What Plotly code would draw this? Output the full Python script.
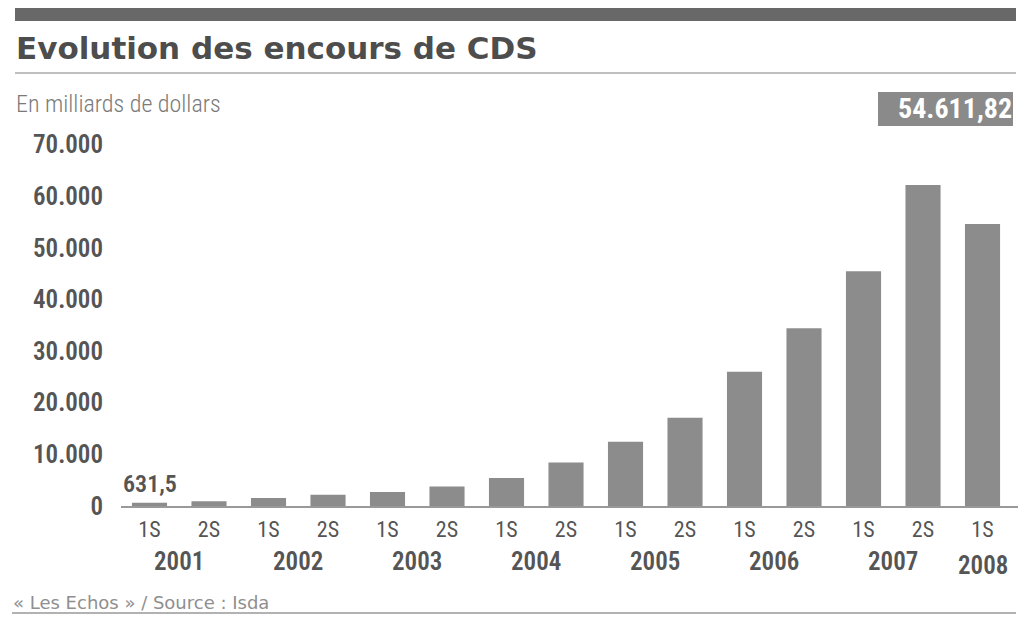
import plotly.graph_objects as go

# ---- data ----
halves = ["1S", "2S", "1S", "2S", "1S", "2S", "1S", "2S", "1S", "2S", "1S", "2S", "1S", "2S", "1S"]
years = ["2001", "2002", "2003", "2004", "2005", "2006", "2007", "2008"]
values = [631.5, 918.87, 1563.48, 2191.57, 2687.91, 3779.40, 5441.86, 8422.26,
          12429.88, 17096.14, 26005.61, 34422.80, 45464.54, 62173.20, 54611.82]
ytick_vals = [0, 10000, 20000, 30000, 40000, 50000, 60000, 70000]
ytick_text = ["0", "10.000", "20.000", "30.000", "40.000", "50.000", "60.000", "70.000"]
first_label = "631,5"
last_label = "54.611,82"

COND = "Roboto Condensed, DejaVu Sans Condensed, sans-serif"
BAR = "#8c8c8c"

xs = list(range(len(values)))

# page body has an 8px margin: figure sits at (8, 8) in the window
OFF = 8
W_PX, H_PX = 1026 - OFF, 617 - OFF
L, R, T, B = 113, 6, 121, 111
pw, ph = W_PX - L - R, H_PX - T - B


def px(xs_):
    return (xs_ - OFF - L) / pw


def py(ys_):
    return (H_PX - B - (ys_ - OFF)) / ph


fig = go.Figure()
fig.add_trace(go.Bar(x=xs, y=values, marker=dict(color=BAR, line=dict(width=0)),
                     width=0.59, hoverinfo="skip", showlegend=False))

annotations = []
for i, yr in enumerate(years):
    last = 2 * i + 1 >= len(values)
    xc = 2 * i if last else 2 * i + 0.5
    annotations.append(dict(x=xc, xref="x", y=py(565 if last else 561), yref="paper",
                            text=yr, showarrow=False,
                            font=dict(family=COND, size=25, color="#555555", weight=600),
                            xanchor="center", yanchor="middle"))
annotations.append(dict(x=0, xref="x", y=values[0], yref="y", text=first_label,
                        showarrow=False, yshift=19, font=dict(family=COND, size=24, color="#555555", weight=600),
                        xanchor="center", yanchor="middle"))
annotations.append(dict(x=px(1014), xref="paper", y=py(109), yref="paper", text="<b>" + last_label + "</b>",
                        showarrow=False, font=dict(family=COND, size=28, color="white"),
                        xanchor="right", yanchor="middle"))
annotations.append(dict(x=px(14), xref="paper", y=py(48), yref="paper",
                        text="<b>Evolution des encours de CDS</b>", showarrow=False,
                        font=dict(family="DejaVu Sans, sans-serif", size=31, color="#4d4d4d"),
                        xanchor="left", yanchor="middle"))
annotations.append(dict(x=px(14), xref="paper", y=py(104), yref="paper",
                        text="En milliards de dollars", showarrow=False,
                        font=dict(family=COND, size=24, color="#7a7a7a", weight=300),
                        xanchor="left", yanchor="middle"))
annotations.append(dict(x=px(11), xref="paper", y=py(602), yref="paper",
                        text="« Les Echos » / Source : Isda", showarrow=False,
                        font=dict(family="DejaVu Sans, sans-serif", size=18, color="#8f8f8f"),
                        xanchor="left", yanchor="middle"))

shapes = [
    dict(type="rect", xref="paper", yref="paper", x0=px(15), x1=px(1016), y0=py(21), y1=py(8),
         fillcolor="#686868", line=dict(width=0), layer="below"),
    dict(type="line", xref="paper", yref="paper", x0=px(15), x1=px(1016), y0=py(73), y1=py(73),
         line=dict(color="#aaaaaa", width=1.5)),
    dict(type="rect", xref="paper", yref="paper", x0=px(878), x1=px(1013), y0=py(126), y1=py(92),
         fillcolor="#8a8a8a", line=dict(width=0), layer="below"),
    dict(type="line", xref="paper", yref="paper", x0=px(12), x1=px(1016), y0=py(613), y1=py(613),
         line=dict(color="#999999", width=1.5)),
]

fig.update_layout(
    width=W_PX, height=H_PX,
    margin=dict(l=L, r=R, t=T, b=B, autoexpand=False),
    paper_bgcolor="white", plot_bgcolor="rgba(0,0,0,0)",
    annotations=annotations, shapes=shapes,
    xaxis=dict(range=[-0.479, 14.63], tickvals=xs, ticktext=halves, showgrid=False, zeroline=False,
               showline=True, linecolor="#999", linewidth=1.5, ticks="", ticklabelstandoff=3,
               tickfont=dict(family=COND, size=22, color="#555"), fixedrange=True),
    yaxis=dict(range=[0, 73000], tickvals=ytick_vals, ticktext=ytick_text, showgrid=False,
               zeroline=False, showline=False, ticks="", ticklabelstandoff=17,
               tickfont=dict(family=COND, size=25, color="#555555", weight=600), fixedrange=True),
)

fig.write_html("out.html")
